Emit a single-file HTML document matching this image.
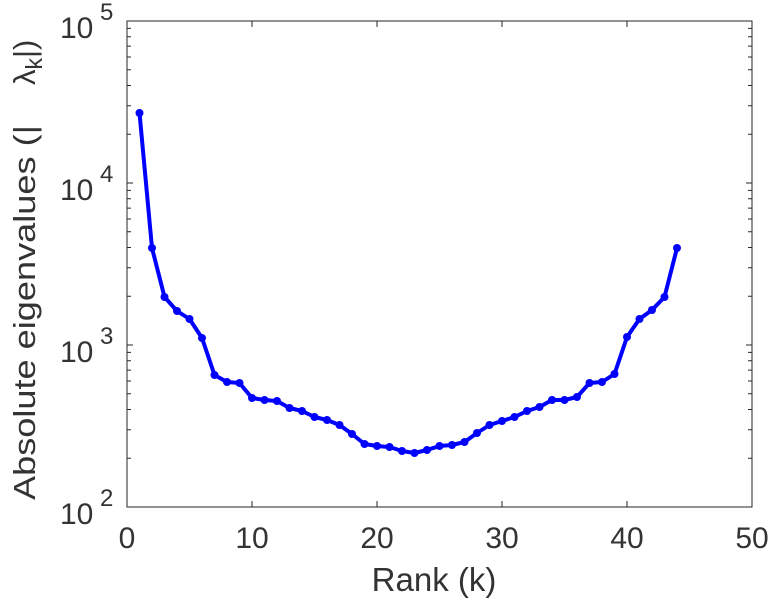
<!DOCTYPE html>
<html><head><meta charset="utf-8"><style>
body{margin:0;background:#fff}
svg text{font-family:"Liberation Sans",sans-serif;fill:#333}
</style></head><body>
<svg width="772" height="600" xmlns="http://www.w3.org/2000/svg">
<rect width="772" height="600" fill="#fff"/>
<g id="ticks" stroke="#262626" stroke-width="1"></g>
<rect x="127" y="21" width="625" height="486" fill="none" stroke="#262626" stroke-width="1"/>
<polyline id="ln" fill="none" stroke="#0000ff" stroke-width="4" stroke-linejoin="round"/>
<g id="mk" fill="#0000ff"></g>
<g font-size="30" text-anchor="middle">
<text x="127" y="548">0</text><text x="252" y="548">10</text><text x="377" y="548">20</text>
<text x="502" y="548">30</text><text x="627" y="548">40</text><text x="752" y="548">50</text>
</g>
<g font-size="30">
<text x="60" y="38">10</text><text x="100" y="20" font-size="24">5</text>
<text x="60" y="200">10</text><text x="100" y="182" font-size="24">4</text>
<text x="60" y="362">10</text><text x="100" y="344" font-size="24">3</text>
<text x="60" y="524">10</text><text x="100" y="506" font-size="24">2</text>
</g>
<text x="434" y="591" font-size="33" text-anchor="middle">Rank (k)</text>
<text transform="translate(35,500) rotate(-90)" font-size="31" textLength="375" lengthAdjust="spacingAndGlyphs">Absolute eigenvalues (|</text>
<text transform="translate(35,85) rotate(-90)" font-size="31">λ<tspan font-size="23" dy="7">k</tspan><tspan dy="-7">|)</tspan></text>
<script>
var ys=[113,248,297,311,319,338,375,382,383,398,400,401,408,411,417,420,425,434,444,446,447,451,453,450,446,445,442,433,425,421,417,411,407,400,400,397,383,382,374,337,319,310,297,248];
var pts=[],mk=document.getElementById('mk'),ns='http://www.w3.org/2000/svg';
ys.forEach(function(y,i){var x=127+12.5*(i+1);pts.push(x+','+y);var c=document.createElementNS(ns,'circle');c.setAttribute('cx',x);c.setAttribute('cy',y);c.setAttribute('r',4);mk.appendChild(c);});
document.getElementById('ln').setAttribute('points',pts.join(' '));
var t=document.getElementById('ticks'),d='';
for(var k=1;k<5;k++){var x=127+125*k;d+='M'+x+' 507v-6M'+x+' 21v6';}
for(var dec=0;dec<3;dec++){var b=507-162*dec;d+='M127 '+b+'h6M752 '+b+'h-6';
for(var m=2;m<10;m++){var y=b-162*Math.log10(m);d+='M127 '+y+'h4M752 '+y+'h-4';}}
var p=document.createElementNS(ns,'path');p.setAttribute('d',d);t.appendChild(p);
</script>
</svg>
</body></html>
